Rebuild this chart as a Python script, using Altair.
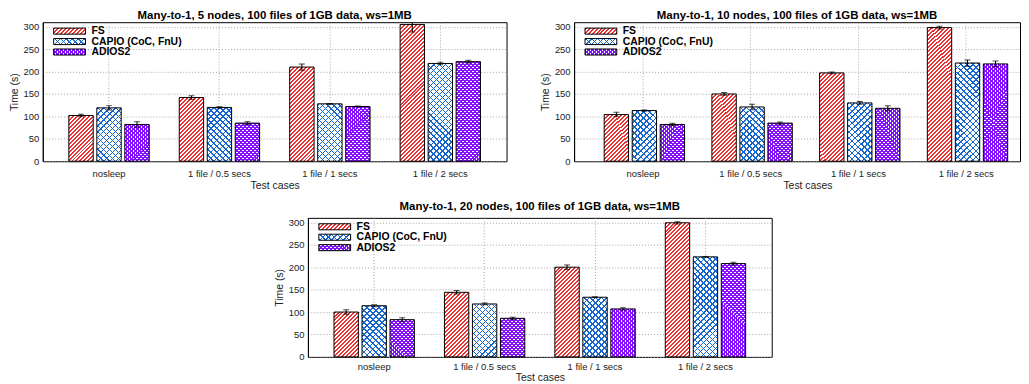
import altair as alt
import pandas as pd

categories = ["nosleep", "1 file / 0.5 secs", "1 file / 1 secs", "1 file / 2 secs"]
series_names = ["FS", "CAPIO (CoC, FnU)", "ADIOS2"]

panel_titles = [
    "Many-to-1, 5 nodes, 100 files of 1GB data, ws=1MB",
    "Many-to-1, 10 nodes, 100 files of 1GB data, ws=1MB",
    "Many-to-1, 20 nodes, 100 files of 1GB data, ws=1MB",
]

# 5 nodes
fs_5 = [102, 142, 210, 305]
fs_5_err = [3, 4, 7, 17]
capio_5 = [119, 120, 128, 218]
capio_5_err = [5, 1.5, 1, 3]
adios_5 = [82, 85, 122, 222]
adios_5_err = [6, 3, 1, 3]

# 10 nodes
fs_10 = [104, 150, 197, 298]
fs_10_err = [5, 3, 2, 3]
capio_10 = [113, 121, 130, 219]
capio_10_err = [1.5, 6, 3, 7]
adios_10 = [82, 85, 118, 217]
adios_10_err = [2.5, 2.5, 5.5, 6.5]

# 20 nodes
fs_20 = [100, 144, 200, 299]
fs_20_err = [5, 4, 5, 2.5]
capio_20 = [114, 118, 133, 223]
capio_20_err = [2, 2, 1, 1]
adios_20 = [83, 86, 107, 208]
adios_20_err = [4.5, 2.5, 2.5, 3]

y_ticks = [0, 50, 100, 150, 200, 250, 300]
Y_MAX = 310

FONT = "Liberation Sans"
PLOT_H = 140

# hatch styles (pattern look of the original figure)
styles = {
    "FS": dict(color="#ee3030", period=4.0, frac=0.5, cross=False),
    "CAPIO (CoC, FnU)": dict(color="#1565d0", period=6.0, frac=0.25, cross=True),
    "ADIOS2": dict(color="#8410ff", period=4.0, frac=0.5, cross=True),
}


def stripe_gradient(w, h, period, frac, color, bg, flip):
    # 45 degree stripes with an exact pixel period; gradient spans 64 periods
    L = 64 * period
    k = L / (w * w + h * h)
    if not flip:
        x1, y1, x2, y2 = 0, 0, k * w, k * h
    else:
        x1, y1, x2, y2 = 0, 1, k * w, 1 - k * h
    stops = []
    n_per = int((w + h) / period) + 2
    for i in range(min(n_per, 64)):
        a = i / 64
        b = (i + frac) / 64
        c = (i + 1) / 64
        stops.append({"offset": round(a, 6), "color": color})
        stops.append({"offset": round(b, 6), "color": color})
        stops.append({"offset": round(b, 6), "color": bg})
        stops.append({"offset": round(c, 6), "color": bg})
    return {"gradient": "linear", "x1": round(x1, 6), "y1": round(y1, 6),
            "x2": round(x2, 6), "y2": round(y2, 6), "stops": stops}


def panel_df(fs, fs_e, ca, ca_e, ad, ad_e):
    rows = []
    k = 0
    for si, (vals, errs) in enumerate([(fs, fs_e), (ca, ca_e), (ad, ad_e)]):
        for ci, cat in enumerate(categories):
            v = vals[ci]
            e = errs[ci]
            rows.append({"k": k, "cat": cat, "series": series_names[si],
                         "value": v, "lo": v - e, "hi": v + e})
            k += 1
    return pd.DataFrame(rows)


XO_PAD_IN = 0.13
XO_PAD_OUT = 0.537


def make_panel(df, title, width, pad_out, align, title_x, title_offset, label_pad, xtitle_pad):
    step = width / (4 + 2 * pad_out)
    inner = step / (3 - XO_PAD_IN + 2 * XO_PAD_OUT)
    bw = inner * (1 - XO_PAD_IN)

    base_conds, over_conds = [], []
    for _, r in df.iterrows():
        st = styles[r["series"]]
        h = max(r["value"] / Y_MAX * PLOT_H, 1.0)
        base_conds.append({"test": f"datum.k == {int(r['k'])}",
                           "value": stripe_gradient(bw, h, st["period"], st["frac"], st["color"], "#ffffff", False)})
        if st["cross"]:
            over_conds.append({"test": f"datum.k == {int(r['k'])}",
                               "value": stripe_gradient(bw, h, st["period"], st["frac"], st["color"], "rgba(255,255,255,0)", True)})

    x_enc = alt.X("cat:N", sort=categories,
                  scale=alt.Scale(paddingInner=0, paddingOuter=pad_out, align=align),
                  axis=alt.Axis(title="Test cases", grid=True, bandPosition=0.5,
                                labelAngle=0, ticks=False, domain=False, titleX=title_x,
                                labelPadding=label_pad, titlePadding=xtitle_pad))
    xo = alt.XOffset("series:N", sort=series_names,
                     scale=alt.Scale(domain=series_names, paddingInner=XO_PAD_IN, paddingOuter=XO_PAD_OUT))
    y_scale = alt.Scale(domain=[0, Y_MAX], nice=False)
    y_axis = alt.Axis(title="Time (s)", values=y_ticks, grid=True, ticks=False)

    base = alt.Chart(df).mark_bar(strokeWidth=0).encode(
        x=x_enc, xOffset=xo, y=alt.Y("value:Q", scale=y_scale, axis=y_axis),
        fill={"condition": base_conds, "value": "#ffffff"},
    )
    over = alt.Chart(df).mark_bar(stroke="#000000", strokeWidth=1).encode(
        x=x_enc, xOffset=xo, y=alt.Y("value:Q", scale=y_scale, axis=y_axis),
        fill={"condition": over_conds, "value": "transparent"},
    )
    rule = alt.Chart(df).mark_rule(color="black", strokeWidth=1, clip=True).encode(
        x=x_enc, xOffset=xo, y=alt.Y("lo:Q", scale=y_scale, axis=y_axis), y2="hi:Q"
    )
    cap_lo = alt.Chart(df).mark_tick(color="black", thickness=1, size=6, clip=True).encode(
        x=x_enc, xOffset=xo, y=alt.Y("lo:Q", scale=y_scale, axis=y_axis)
    )
    cap_hi = alt.Chart(df).mark_tick(color="black", thickness=1, size=6, clip=True).encode(
        x=x_enc, xOffset=xo, y=alt.Y("hi:Q", scale=y_scale, axis=y_axis)
    )
    bars = alt.layer(base, over, rule, cap_lo, cap_hi)

    # in-plot legend
    leg_df = pd.DataFrame({"series": series_names})
    leg_y = alt.Y("series:N", scale=alt.Scale(type="point", domain=series_names, range=[9, 30], padding=0), axis=None)
    sw_w, sw_h = 32.0, 6.08
    lb, lo_ = [], []
    for s in series_names:
        st = styles[s]
        lb.append({"test": f"datum.series == '{s}'",
                   "value": stripe_gradient(sw_w, sw_h, st["period"], st["frac"], st["color"], "#ffffff", False)})
        if st["cross"]:
            lo_.append({"test": f"datum.series == '{s}'",
                        "value": stripe_gradient(sw_w, sw_h, st["period"], st["frac"], st["color"], "rgba(255,255,255,0)", True)})
    shape = "M-1,-0.19H1V0.19H-1Z"
    leg_base = alt.Chart(leg_df).mark_point(shape=shape, size=1024, filled=True, opacity=1, strokeWidth=0).encode(
        x=alt.value(27), y=leg_y, fill={"condition": lb, "value": "#ffffff"}
    )
    leg_over = alt.Chart(leg_df).mark_point(shape=shape, size=1024, filled=True, opacity=1,
                                            stroke="#000000", strokeWidth=1).encode(
        x=alt.value(27), y=leg_y, fill={"condition": lo_, "value": "transparent"}
    )
    leg_text = alt.Chart(leg_df).mark_text(align="left", baseline="middle", fontWeight="bold",
                                           fontSize=10.5, font=FONT, color="#000000").encode(
        x=alt.value(49), y=leg_y, text="series:N"
    )
    legend = alt.layer(leg_base, leg_over, leg_text)

    return alt.layer(bars, legend).resolve_scale(y="independent").properties(
        width=width, height=PLOT_H,
        title=alt.TitleParams(text=title, fontSize=11.5, fontWeight="bold", font=FONT,
                              offset=title_offset, color="#000000", anchor="middle"),
    )


df5 = panel_df(fs_5, fs_5_err, capio_5, capio_5_err, adios_5, adios_5_err)
df10 = panel_df(fs_10, fs_10_err, capio_10, capio_10_err, adios_10, adios_10_err)
df20 = panel_df(fs_20, fs_20_err, capio_20, capio_20_err, adios_20, adios_20_err)

p1 = make_panel(df5, panel_titles[0], 467, 0.1, 0.5, 233.5, 0, 7, 3)
p2 = make_panel(df10, panel_titles[1], 449, 0.07, 1.0, 235, 0, 7, 3)
p3 = make_panel(df20, panel_titles[2], 467, 0.1, 0.5, 233.5, 5, 5, 1)

spacer = alt.Chart(pd.DataFrame({"s": [0]})).mark_point(opacity=0).encode(
    x=alt.value(0), y=alt.value(0)
).properties(width=231, height=10, view=alt.ViewBackground(stroke="transparent"))

row1 = alt.hconcat(p1, p2, spacing=32)
row2 = alt.hconcat(spacer, p3, spacing=0)

chart = alt.vconcat(row1, row2, spacing=8).properties(
    padding={"top": 0, "left": 0, "right": 0, "bottom": 0}
).configure(
    font=FONT
).configure_view(
    stroke="#000000", strokeWidth=1
).configure_axis(
    domainColor="#000000", domainWidth=1,
    gridColor="#9a9a9a", gridDash=[1, 2], gridWidth=0.9,
    labelFont=FONT, labelColor="#222222", titleFont=FONT, titleColor="#222222",
    titleFontWeight="normal",
).configure_axisX(
    labelFontSize=9.5, titleFontSize=10.5
).configure_axisY(
    labelFontSize=9.5, labelPadding=4, titlePadding=4, titleFontSize=10.5
)

chart.save("out.html", embed_options={"renderer": "svg", "actions": False})
